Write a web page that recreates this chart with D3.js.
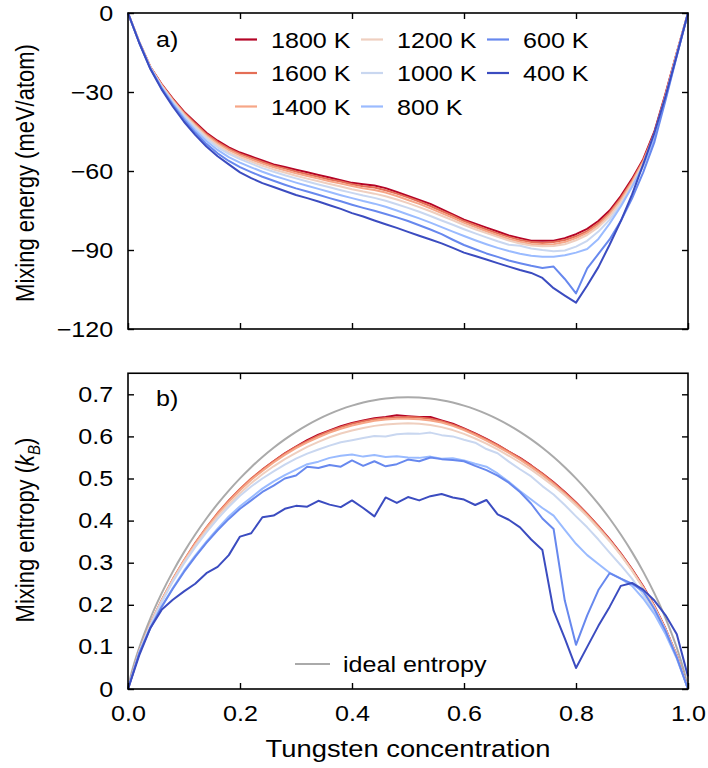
<!DOCTYPE html>
<html>
<head>
<meta charset="utf-8">
<script src="https://cdn.jsdelivr.net/npm/d3@7"></script>
<style>
body { margin: 0; background: #fff; }
text { font-family: 'Liberation Sans', Arial, sans-serif; }
</style>
</head>
<body>
<svg id="chart" width="708" height="768"></svg>
<script>
// tungsten concentration grid
const conc = [0, 0.02, 0.04, 0.06, 0.08, 0.1, 0.12, 0.14, 0.16, 0.18,
  0.2, 0.22, 0.24, 0.26, 0.28, 0.3, 0.32, 0.34, 0.36, 0.38,
  0.4, 0.42, 0.44, 0.46, 0.48, 0.5, 0.52, 0.54, 0.56, 0.58,
  0.6, 0.62, 0.64, 0.66, 0.68, 0.7, 0.72, 0.74, 0.76, 0.78,
  0.8, 0.82, 0.84, 0.86, 0.88, 0.9, 0.92, 0.94, 0.96, 0.98, 1];

const temps = ['1800 K', '1600 K', '1400 K', '1200 K', '1000 K', '800 K', '600 K', '400 K'];
const colors = ['#b40426', '#e46e56', '#f6a687', '#efcfbf', '#c9d7f0', '#9abbff', '#6788ee', '#3b4cc0'];

// mixing energy (meV/atom)
const e1800 = [0, -11, -20.5, -27, -32.5, -37.5, -41.5, -45.5, -48.5, -51,
  -53, -54.5, -56, -57.5, -58.5, -59.5, -60.5, -61.5, -62.5, -63.5,
  -64.5, -65, -65.5, -66.5, -68, -69.5, -71, -72.5, -74.5, -76.5,
  -78.5, -80, -81.5, -83, -84.5, -85.5, -86.5, -86.5, -86.5, -85.5,
  -84, -82, -79, -75, -69.5, -63, -55.5, -45, -30.5, -15, 0];
const e1600 = [0, -11, -20.5, -27.2, -32.8, -37.8, -42, -46, -49, -51.5,
  -53.5, -55, -56.6, -58, -59, -60.2, -61.2, -62.2, -63.2, -64,
  -65, -65.8, -66.3, -67.3, -68.6, -70, -71.6, -73.3, -75.2, -77,
  -79, -80.6, -82.2, -83.7, -85, -86.2, -87, -87.3, -87, -86.2,
  -84.8, -82.8, -79.8, -75.8, -70.3, -63.7, -56, -45.5, -31, -15.2, 0];
const e1400 = [0, -11, -20.6, -27.4, -33.1, -38.2, -42.5, -46.5, -49.6, -52.1,
  -54.1, -55.7, -57.2, -58.6, -59.7, -60.9, -61.9, -62.9, -63.9, -64.8,
  -65.7, -66.6, -67.2, -68.2, -69.5, -71, -72.5, -74.2, -76, -77.8,
  -79.7, -81.3, -82.9, -84.4, -85.8, -86.9, -87.7, -88, -87.8, -87,
  -85.5, -83.5, -80.5, -76.4, -71, -64.3, -56.5, -46, -31.3, -15.4, 0];
const e1200 = [0, -11.1, -20.7, -27.6, -33.4, -38.6, -43, -47, -50.2, -52.8,
  -54.8, -56.4, -58, -59.4, -60.6, -61.8, -62.9, -63.9, -64.9, -65.9,
  -66.9, -67.8, -68.6, -69.6, -70.8, -72.2, -73.7, -75.3, -77, -78.7,
  -80.5, -82.1, -83.6, -85, -86.4, -87.5, -88.3, -88.6, -88.5, -87.8,
  -86.3, -84.3, -81.3, -77.2, -71.8, -65, -57, -46.5, -31.6, -15.5, 0];
const e1000 = [0, -11.1, -20.8, -27.9, -33.8, -39.1, -43.6, -47.7, -51, -53.5,
  -55.5, -57.2, -58.9, -60.3, -61.6, -62.8, -64, -65.1, -66.2, -67.3,
  -68.3, -69.3, -70.2, -71.3, -72.6, -74, -75.5, -77.1, -78.8, -80.4,
  -82.1, -83.7, -85.2, -86.7, -88, -88.4, -89.4, -90, -90.5, -90.2,
  -88.7, -86.5, -83, -78.5, -72.8, -66, -58, -47.5, -32, -15.8, 0];
const e800 = [0, -11.2, -21, -28.3, -34.4, -39.8, -44.5, -48.6, -52, -54.7,
  -56.8, -58.6, -60.3, -61.8, -63.1, -64.4, -65.6, -66.8, -68, -69.2,
  -70.3, -71.4, -72.4, -73.6, -75, -76.5, -78, -79.6, -81.3, -83,
  -84.7, -86.3, -87.8, -89.2, -90.4, -91.4, -92.2, -92.6, -92.6, -92,
  -91, -89.6, -85.8, -80, -73.5, -66, -58, -47.5, -32.3, -16, 0];
const e600 = [0, -11.2, -21.1, -28.6, -34.9, -40.5, -45.4, -49.7, -53.3, -56.2,
  -58.5, -60.4, -62.2, -63.7, -65.2, -66.6, -67.8, -69, -70.3, -71.5,
  -72.8, -74, -75.1, -76.3, -77.6, -79, -80.6, -82.2, -84, -86.1,
  -88.1, -89.7, -91.3, -92.6, -94, -95, -96, -96.8, -96.3, -101,
  -106.5, -97, -91.5, -86, -79, -70.5, -60.5, -49, -33, -16.3, 0];
const e400 = [0, -11.3, -21.3, -29, -35.5, -41.3, -46.3, -50.7, -54.4, -57.5,
  -60.5, -62.7, -64.6, -66.1, -67.6, -69.1, -70.3, -71.6, -73, -74.4,
  -76, -77.3, -78.8, -80.2, -81.6, -83.1, -84.6, -86, -87.5, -89.2,
  -91, -92.3, -93.6, -95, -96.3, -97.6, -98.7, -100.6, -104.5, -107.3,
  -110, -103.5, -96.5, -88, -79, -69, -57.5, -45.5, -31.5, -16, 0];

// mixing entropy (k_B)
const s1800 = [0, .088, .153, .209, .259, .304, .345, .382, .416, .447,
  .474, .499, .521, .541, .560, .576, .591, .604, .614, .624,
  .632, .638, .643, .646, .650, .648, .646, .646, .638, .630,
  .619, .607, .594, .580, .564, .549, .531, .512, .491, .468,
  .443, .416, .387, .356, .322, .285, .244, .197, .143, .080, 0];
const s1600 = [0, .089, .155, .211, .261, .306, .347, .384, .418, .448,
  .475, .500, .521, .541, .559, .575, .589, .602, .613, .622,
  .630, .636, .641, .644, .645, .646, .645, .642, .636, .628,
  .618, .606, .593, .579, .564, .548, .530, .511, .490, .467,
  .442, .415, .386, .355, .321, .284, .243, .196, .142, .079, 0];
const s1400 = [0, .089, .155, .211, .260, .305, .345, .382, .415, .445,
  .472, .497, .518, .538, .556, .572, .586, .598, .609, .618,
  .626, .632, .637, .640, .642, .642, .641, .638, .633, .625,
  .615, .603, .590, .576, .561, .545, .527, .508, .487, .464,
  .440, .413, .384, .353, .319, .282, .241, .195, .141, .079, 0];
const s1200 = [0, .088, .154, .209, .258, .302, .341, .377, .410, .439,
  .465, .489, .510, .529, .546, .561, .575, .587, .598, .607,
  .614, .620, .625, .628, .630, .631, .630, .627, .622, .615,
  .606, .595, .583, .569, .554, .538, .521, .502, .482, .460,
  .436, .410, .381, .351, .318, .281, .240, .194, .141, .078, 0];
const s1000 = [0, .088, .152, .206, .255, .298, .337, .372, .404, .433,
  .459, .481, .500, .517, .533, .547, .559, .569, .578, .586,
  .591, .596, .601, .600, .605, .607, .606, .609, .603, .600,
  .592, .585, .570, .560, .540, .522, .505, .482, .462, .437,
  .410, .384, .355, .324, .294, .262, .224, .181, .133, .075, 0];
const s800 = [0, .085, .146, .196, .240, .281, .317, .350, .381, .410,
  .434, .455, .476, .493, .508, .521, .534, .540, .549, .554,
  .557, .552, .556, .551, .553, .550, .549, .552, .547, .548,
  .543, .535, .528, .512, .492, .470, .450, .430, .412, .378,
  .345, .318, .297, .276, .262, .245, .215, .178, .130, .072, 0];
const s600 = [0, .085, .145, .195, .238, .278, .314, .347, .377, .404,
  .428, .448, .468, .483, .500, .507, .528, .525, .532, .528,
  .543, .530, .541, .529, .534, .545, .541, .550, .546, .544,
  .541, .530, .520, .507, .490, .468, .440, .405, .380, .210,
  .105, .175, .235, .275, .262, .250, .232, .190, .138, .075, 0];
const s400 = [0, .080, .145, .188, .212, .232, .250, .275, .290, .318,
  .362, .370, .408, .412, .428, .435, .433, .447, .438, .432,
  .448, .430, .410, .455, .442, .456, .448, .458, .463, .455,
  .450, .437, .449, .415, .402, .384, .355, .330, .186, .120,
  .050, .100, .150, .195, .245, .252, .236, .210, .175, .130, .030];

// ideal mixing entropy
const idealX = [0, 0.005, 0.01, 0.02, 0.04, 0.06, 0.08, 0.1, 0.12, 0.14, 0.16, 0.18,
  0.2, 0.22, 0.24, 0.26, 0.28, 0.3, 0.32, 0.34, 0.36, 0.38,
  0.4, 0.42, 0.44, 0.46, 0.48, 0.5, 0.52, 0.54, 0.56, 0.58,
  0.6, 0.62, 0.64, 0.66, 0.68, 0.7, 0.72, 0.74, 0.76, 0.78,
  0.8, 0.82, 0.84, 0.86, 0.88, 0.9, 0.92, 0.94, 0.96, 0.98, 0.99, 0.995, 1];
const idealS = [0, .0315, .0560, .0980, .1679, .2270, .2788, .3251, .3669, .4050, .4397, .4714,
  .5004, .5269, .5511, .5731, .5930, .6109, .6269, .6410, .6534, .6641,
  .6730, .6803, .6859, .6899, .6924, .6931, .6924, .6899, .6859, .6803,
  .6730, .6641, .6534, .6410, .6269, .6109, .5930, .5731, .5511, .5269,
  .5004, .4714, .4397, .4050, .3669, .3251, .2788, .2270, .1679, .0980, .0560, .0315, 0];

const energy = [e1800, e1600, e1400, e1200, e1000, e800, e600, e400];
const entropy = [s1800, s1600, s1400, s1200, s1000, s800, s600, s400];

const SX = 1.14; // horizontal stretch of glyphs in the original
const svg = d3.select('#chart');

const x = d3.scaleLinear().domain([0, 1]).range([128, 688]);
const yE = d3.scaleLinear().domain([-120, 0]).range([329, 13]);
const yS = d3.scaleLinear().domain([0, 0.75]).range([689, 373.25]);

function frame(y, yTicks, yFmt, showX) {
  const [y0, y1] = y.range();
  const axes = [
    [d3.axisBottom(x).tickValues([0, 0.2, 0.4, 0.6, 0.8, 1]).tickPadding(16)
      .tickFormat(showX ? d3.format('.1f') : ''), `translate(0,${y0})`],
    [d3.axisTop(x).tickValues([0.2, 0.4, 0.6, 0.8]).tickFormat(''), `translate(0,${y1})`],
    [d3.axisLeft(y).tickValues(yTicks).tickPadding(13).tickFormat(yFmt), `translate(128,0)`],
    [d3.axisRight(y).tickValues(yTicks).tickFormat(''), `translate(688,0)`]
  ];
  axes.forEach(([ax, tr]) => {
    const g = svg.append('g').attr('transform', tr)
      .call(ax.tickSizeInner(-6).tickSizeOuter(0))
      .attr('font-family', "'Liberation Sans', Arial, sans-serif")
      .attr('font-size', 22);
    g.select('.domain').remove();
    g.selectAll('.tick line').attr('stroke', '#000').attr('stroke-width', 1.4);
    g.selectAll('.tick text').attr('fill', '#000').attr('transform', `scale(${SX},1)`);
  });
  svg.append('rect')
    .attr('x', 128).attr('y', y1).attr('width', 560).attr('height', y0 - y1)
    .attr('fill', 'none').attr('stroke', '#000').attr('stroke-width', 1.6);
}

function label(tx, ty, str, size, anchor) {
  return svg.append('text')
    .attr('transform', `translate(${tx},${ty}) scale(${SX},1)`)
    .attr('font-size', size)
    .attr('text-anchor', anchor || 'start')
    .text(str);
}

// panel a
const lineE = d3.line().x((d, i) => x(conc[i])).y(d => yE(d));
energy.forEach((vals, k) => {
  svg.append('path').datum(vals)
    .attr('d', lineE).attr('fill', 'none')
    .attr('stroke', colors[k]).attr('stroke-width', 2).attr('stroke-linejoin', 'round');
});
frame(yE, [-120, -90, -60, -30, 0], d3.format('d'), false);

// panel b
const lineIdeal = d3.line().curve(d3.curveMonotoneX).x((d, i) => x(idealX[i])).y(d => yS(d));
svg.append('path').datum(idealS)
  .attr('d', lineIdeal).attr('fill', 'none')
  .attr('stroke', '#aaaaaa').attr('stroke-width', 2);
const lineS = d3.line().x((d, i) => x(conc[i])).y(d => yS(d));
entropy.forEach((vals, k) => {
  svg.append('path').datum(vals)
    .attr('d', lineS).attr('fill', 'none')
    .attr('stroke', colors[k]).attr('stroke-width', 2).attr('stroke-linejoin', 'round');
});
frame(yS, [0, 0.1, 0.2, 0.3, 0.4, 0.5, 0.6, 0.7], d => d === 0 ? '0' : d3.format('.1f')(d), true);

// legend a
const legRows = [39.5, 73, 106.5];
const legCols = [235, 361, 487];
temps.forEach((t, k) => {
  const col = Math.floor(k / 3), row = k % 3;
  const lx = legCols[col], ly = legRows[row];
  svg.append('line')
    .attr('x1', lx).attr('x2', lx + 22).attr('y1', ly).attr('y2', ly)
    .attr('stroke', colors[k]).attr('stroke-width', 2.2);
  label(lx + 36, ly + 8, t, 22);
});

// legend b
svg.append('line')
  .attr('x1', 295).attr('x2', 330).attr('y1', 664).attr('y2', 664)
  .attr('stroke', '#aaaaaa').attr('stroke-width', 2.2);
label(343, 672, 'ideal entropy', 22);

// panel letters
label(156, 47, 'a)', 22);
label(156, 406, 'b)', 22);

// axis titles
label(408, 757, 'Tungsten concentration', 24, 'middle');

svg.append('text')
  .attr('transform', `translate(34,173) scale(${SX},1) rotate(-90)`)
  .attr('font-size', 22).attr('text-anchor', 'middle')
  .text('Mixing energy (meV/atom)');

const tS = svg.append('text')
  .attr('transform', `translate(34,530) scale(${SX},1) rotate(-90)`)
  .attr('font-size', 22).attr('text-anchor', 'middle');
tS.append('tspan').text('Mixing entropy (');
tS.append('tspan').attr('font-style', 'italic').text('k');
tS.append('tspan').attr('font-style', 'italic').attr('font-size', 15).attr('dy', 5).text('B');
tS.append('tspan').attr('dy', -5).text(')');
</script>
</body>
</html>
